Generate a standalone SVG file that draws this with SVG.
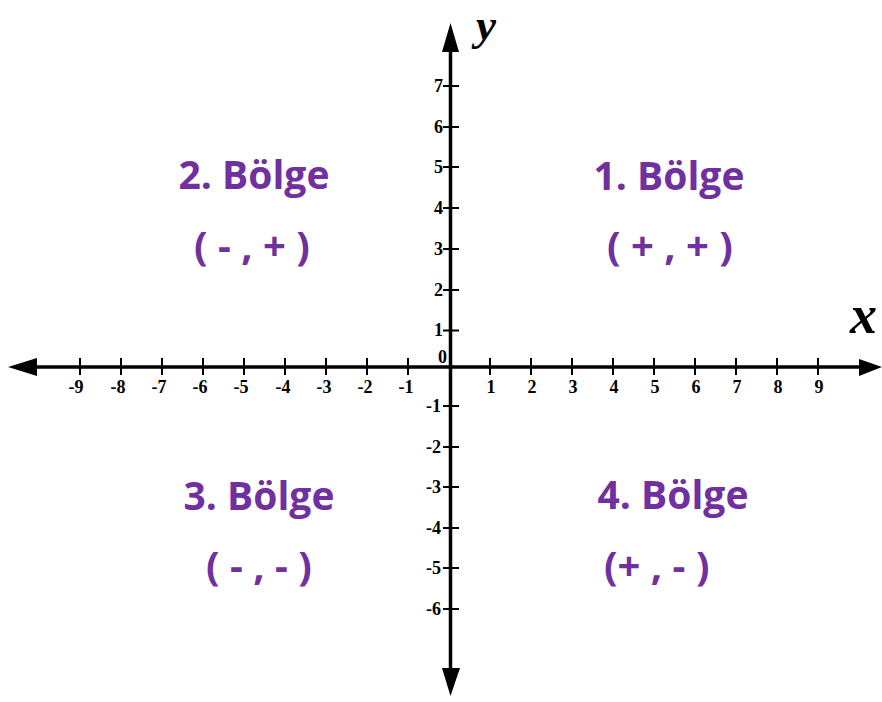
<svg xmlns="http://www.w3.org/2000/svg" width="882" height="702" viewBox="0 0 882 702">
<style>
.ax{stroke:#000;stroke-width:3.5;fill:none}
.tk{stroke:#000;stroke-width:2;fill:none}
.num{font-family:"Liberation Serif",serif;font-weight:bold;font-size:18px;fill:#000}
.nx{text-anchor:middle}
.ny{text-anchor:end}
.var{font-family:"Liberation Serif",serif;font-weight:bold;font-style:italic;fill:#000}
.q{font-family:"Open Sans","Liberation Sans",sans-serif;font-weight:bold;font-size:39px;fill:#7030A0;text-anchor:middle}
.qp{font-family:"Open Sans","Liberation Sans",sans-serif;font-weight:bold;font-size:40px;fill:#7030A0;text-anchor:middle}
</style>
<rect width="882" height="702" fill="#fff"/>
<g id="connectors">
  <line class="ax" x1="30" y1="367" x2="862" y2="367"/>
  <line class="ax" x1="450.5" y1="45" x2="450.5" y2="675"/>
  <polygon points="8,367 37,358 37,376" fill="#000"/>
  <polygon points="882,367 859,359 859,376" fill="#000"/>
  <polygon points="450.5,23 442,52 459,52" fill="#000"/>
  <polygon points="450.5,696 442,668 460,668" fill="#000"/>
</g>
<g id="x-ticks">
  <path class="tk" d="M80 358V375M121 358V375M162 358V375M203 358V375M244 358V375M285 358V375M326 358V375M367 358V375M408 358V375M490 358V375M531 358V375M572 358V375M613 358V375M654 358V375M695 358V375M736 358V375M777 358V375M818 358V375"/>
</g>
<g id="y-ticks">
  <path class="tk" d="M443 86H459M443 127H459M443 167H459M443 208H459M443 249H459M443 290H459M443 330.5H459M443 406H459M443 447H459M443 487H459M443 528H459M443 568H459M443 609H459"/>
</g>
<g id="x-labels">
  <text class="num nx" x="76" y="393">-9</text>
  <text class="num nx" x="118" y="393">-8</text>
  <text class="num nx" x="159" y="393">-7</text>
  <text class="num nx" x="200" y="393">-6</text>
  <text class="num nx" x="241" y="393">-5</text>
  <text class="num nx" x="283" y="393">-4</text>
  <text class="num nx" x="324" y="393">-3</text>
  <text class="num nx" x="365" y="393">-2</text>
  <text class="num nx" x="406" y="393">-1</text>
  <text class="num nx" x="491" y="393">1</text>
  <text class="num nx" x="532" y="393">2</text>
  <text class="num nx" x="573" y="393">3</text>
  <text class="num nx" x="614" y="393">4</text>
  <text class="num nx" x="655" y="393">5</text>
  <text class="num nx" x="696" y="393">6</text>
  <text class="num nx" x="737" y="393">7</text>
  <text class="num nx" x="778" y="393">8</text>
  <text class="num nx" x="819" y="393">9</text>
</g>
<g id="y-labels">
  <text class="num ny" x="443" y="92">7</text>
  <text class="num ny" x="443" y="133">6</text>
  <text class="num ny" x="443" y="173">5</text>
  <text class="num ny" x="443" y="214">4</text>
  <text class="num ny" x="443" y="255">3</text>
  <text class="num ny" x="443" y="296">2</text>
  <text class="num ny" x="443" y="336">1</text>
  <text class="num ny" x="447" y="363">0</text>
  <text class="num ny" x="441" y="412">-1</text>
  <text class="num ny" x="441" y="453">-2</text>
  <text class="num ny" x="441" y="493">-3</text>
  <text class="num ny" x="441" y="534">-4</text>
  <text class="num ny" x="441" y="574">-5</text>
  <text class="num ny" x="441" y="615">-6</text>
</g>
<g id="axis-names">
  <text class="var" x="850" y="333" font-size="54">x</text>
  <text class="var" x="476" y="40" font-size="45">y</text>
</g>
<g id="q1">
  <text class="q" x="669" y="190">1. Bölge</text>
  <text class="qp" x="670" y="260">( + , + )</text>
</g>
<g id="q2">
  <text class="q" x="254" y="189">2. Bölge</text>
  <text class="qp" x="252" y="260">( - , + )</text>
</g>
<g id="q3">
  <text class="q" x="259" y="510">3. Bölge</text>
  <text class="qp" x="259" y="580">( - , - )</text>
</g>
<g id="q4">
  <text class="q" x="673" y="509">4. Bölge</text>
  <text class="qp" x="604" y="580" style="text-anchor:start">(+ , - )</text>
</g>
</svg>
